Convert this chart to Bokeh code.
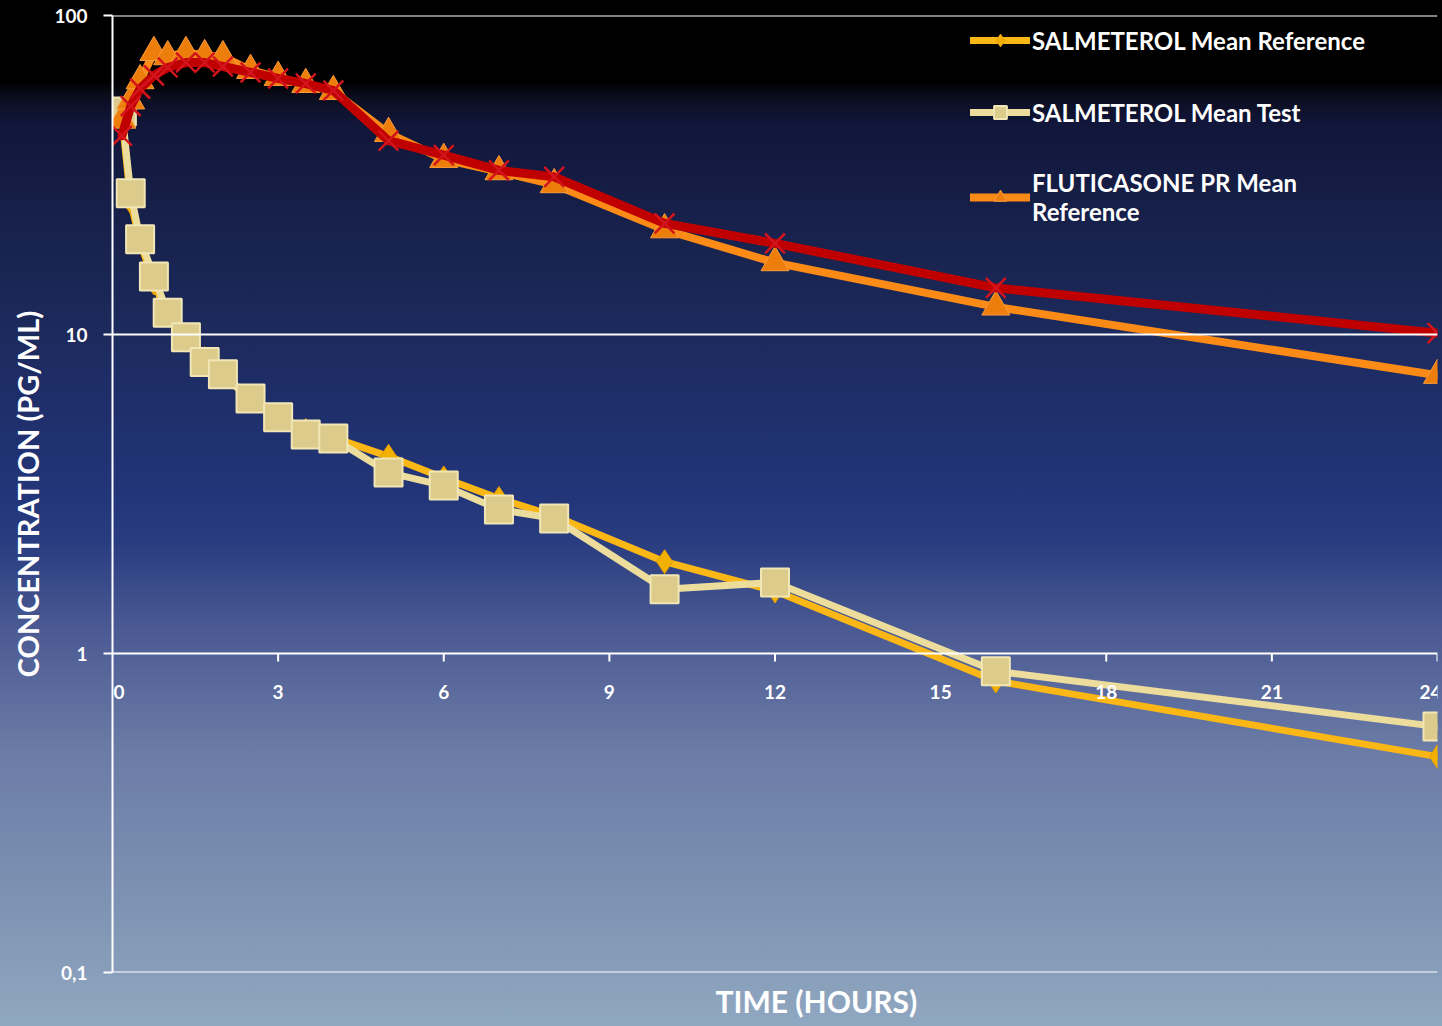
import math
from bokeh.plotting import figure
from bokeh.models import (Range1d, FixedTicker, Span, Legend, LegendItem,
                          ColumnDataSource, Label, Title)
from bokeh.embed import file_html
from bokeh.resources import INLINE

# sampling times (hours)
hours = [0.17, 0.33, 0.5, 0.75, 1, 1.33, 1.67, 2, 2.5, 3, 3.5, 4, 5, 6, 7, 8, 10, 12, 16, 24]

# mean plasma concentrations (pg/mL)
salm_ref = [48, 26, 19.5, 14.5, 11.5, 9.6, 8.4, 7.4, 6.3, 5.6, 5.0, 4.75, 4.15, 3.55,
            3.06, 2.7, 1.94, 1.57, 0.82, 0.475]
salm_test = [50, 27.7, 19.9, 15.2, 11.7, 9.8, 8.2, 7.5, 6.3, 5.5, 4.86, 4.72, 3.69, 3.36,
             2.83, 2.65, 1.59, 1.67, 0.88, 0.59]
flut_ref = [47, 54, 62.5, 76.6, 74.3, 76.6, 74.9, 74.3, 67.3, 64, 60.8, 57.8, 42.7, 35.4,
            32.4, 29.5, 21.3, 16.8, 12.2, 7.45]
flut_test = [42, 52, 59, 64.9, 68.7, 71.2, 71.2, 69.2, 66.3, 63.5, 61.2, 58.2, 40.5, 36.5,
             32.7, 31.2, 22.3, 19.3, 14.0, 10.1]

series_names = ["SALMETEROL Mean Reference", "SALMETEROL Mean Test",
                "FLUTICASONE PR Mean\nReference"]

x_ticks = [0, 3, 6, 9, 12, 15, 18, 21, 24]
x_tick_labels = ["0", "3", "6", "9", "12", "15", "18", "21", "24"]
y_ticks = [0.1, 1, 10, 100]
y_tick_labels = ["0,1", "1", "10", "100"]

FONT = "Lato"
WHITE = "#ffffff"

p = figure(width=1442, height=1026,
           x_range=Range1d(0, 24), y_range=Range1d(0.1, 100),
           y_axis_type="log", output_backend="svg", toolbar_location=None,
           min_border_left=112, min_border_right=5, min_border_top=15,
           min_border_bottom=54)

p.styles = {
    "background": "linear-gradient(to bottom, #000000 0%, #000000 8.0%, #0c0e1f 9.5%, "
                  "#11163a 12%, #161f48 20%, #1b2858 30%, #1f2f6b 40%, #23367a 49%, "
                  "#2a3d80 53%, #4b5a93 61.4%, #6a7ba6 73%, #8399b6 91.6%, #90a7c1 100%)"
}
p.background_fill_color = None
p.border_fill_color = None
p.outline_line_color = None
p.xgrid.visible = False
p.ygrid.visible = False
p.xaxis.visible = False

# y axis
yax = p.yaxis[0]
yax.ticker = FixedTicker(ticks=y_ticks, minor_ticks=[])
yax.major_label_overrides = {t: s for t, s in zip(y_ticks, y_tick_labels)}
yax.axis_line_color = WHITE
yax.axis_line_width = 2
yax.major_tick_line_color = WHITE
yax.major_tick_line_width = 2
yax.major_tick_out = 9
yax.major_tick_in = 0
yax.minor_tick_line_color = None
yax.major_label_text_color = WHITE
yax.major_label_text_font = FONT
yax.major_label_text_font_style = "bold"
yax.major_label_text_font_size = "19px"
yax.major_label_standoff = 16
yax.axis_label = "CONCENTRATION (PG/ML)"
yax.axis_label_text_color = WHITE
yax.axis_label_text_font = FONT
yax.axis_label_text_font_style = "bold"
yax.axis_label_text_font_size = "29px"
yax.axis_label_standoff = 6

# time axis title under the plot area
p.add_layout(Title(text="TIME (HOURS)", align="left", offset=603, standoff=16,
                   text_color=WHITE, text_font=FONT, text_font_style="bold",
                   text_font_size="30px"), "below")

# horizontal reference lines (the 1 pg/mL line doubles as the time axis)
for lvl in y_ticks:
    p.add_layout(Span(location=lvl, dimension="width", line_color=WHITE, line_width=2))

# time axis ticks and labels along the 1 pg/mL line
p.ray(x=x_ticks[1:], y=[1] * (len(x_ticks) - 1), length=8, length_units="screen",
      angle=-math.pi / 2, line_color=WHITE, line_width=2)
for i, (tx, tl) in enumerate(zip(x_ticks, x_tick_labels)):
    if i == 0:
        align, dx = "left", 1
    elif i == len(x_ticks) - 1:
        align, dx = "right", 4
    else:
        align, dx = "center", 0
    p.add_layout(Label(x=tx, y=1, y_offset=-38, x_offset=dx, text=tl,
                       text_align=align, text_baseline="middle",
                       text_color=WHITE, text_font=FONT, text_font_style="bold",
                       text_font_size="19px"))

# series
src = ColumnDataSource(dict(h=hours, sr=salm_ref, st=salm_test, fr=flut_ref, ft=flut_test))

l1 = p.line("h", "sr", source=src, line_color="#FBB715", line_width=7,
            line_join="round", line_cap="round")
m1 = p.scatter("h", "sr", source=src, marker="diamond", size=24,
               fill_color="#F2B000", line_color="#E29E00", line_width=1)

l2 = p.line("h", "st", source=src, line_color="#EDDD9C", line_width=7,
            line_join="round", line_cap="round")
m2 = p.scatter("h", "st", source=src, marker="square", size=28,
               fill_color="#DCCB8A", line_color="#F1E6B6", line_width=2)

l3 = p.line("h", "fr", source=src, line_color="#FB8A16", line_width=8,
            line_join="round", line_cap="round")
m3 = p.scatter("h", "fr", source=src, marker="triangle", size=28,
               fill_color="#EE7E0C", line_color="#F89B3B", line_width=1)

l4 = p.line("h", "ft", source=src, line_color="#C00000", line_width=9,
            line_join="round", line_cap="round")
m4 = p.scatter("h", "ft", source=src, marker="x", size=28,
               line_color="#D3141C", line_width=2.5)

legend = Legend(items=[
    LegendItem(label=series_names[0], renderers=[l1, m1]),
    LegendItem(label=series_names[1], renderers=[l2, m2]),
    LegendItem(label=series_names[2], renderers=[l3, m3]),
], location=(858, 746), orientation="vertical",
    glyph_width=60, glyph_height=32, label_height=32, label_standoff=2,
    spacing=40, padding=0, margin=0,
    background_fill_alpha=0, border_line_color=None,
    label_text_color=WHITE, label_text_font=FONT, label_text_font_style="bold",
    label_text_font_size="24px", label_text_line_height=1.45)
p.add_layout(legend)

open("out.html", "w").write(file_html(p, INLINE))
